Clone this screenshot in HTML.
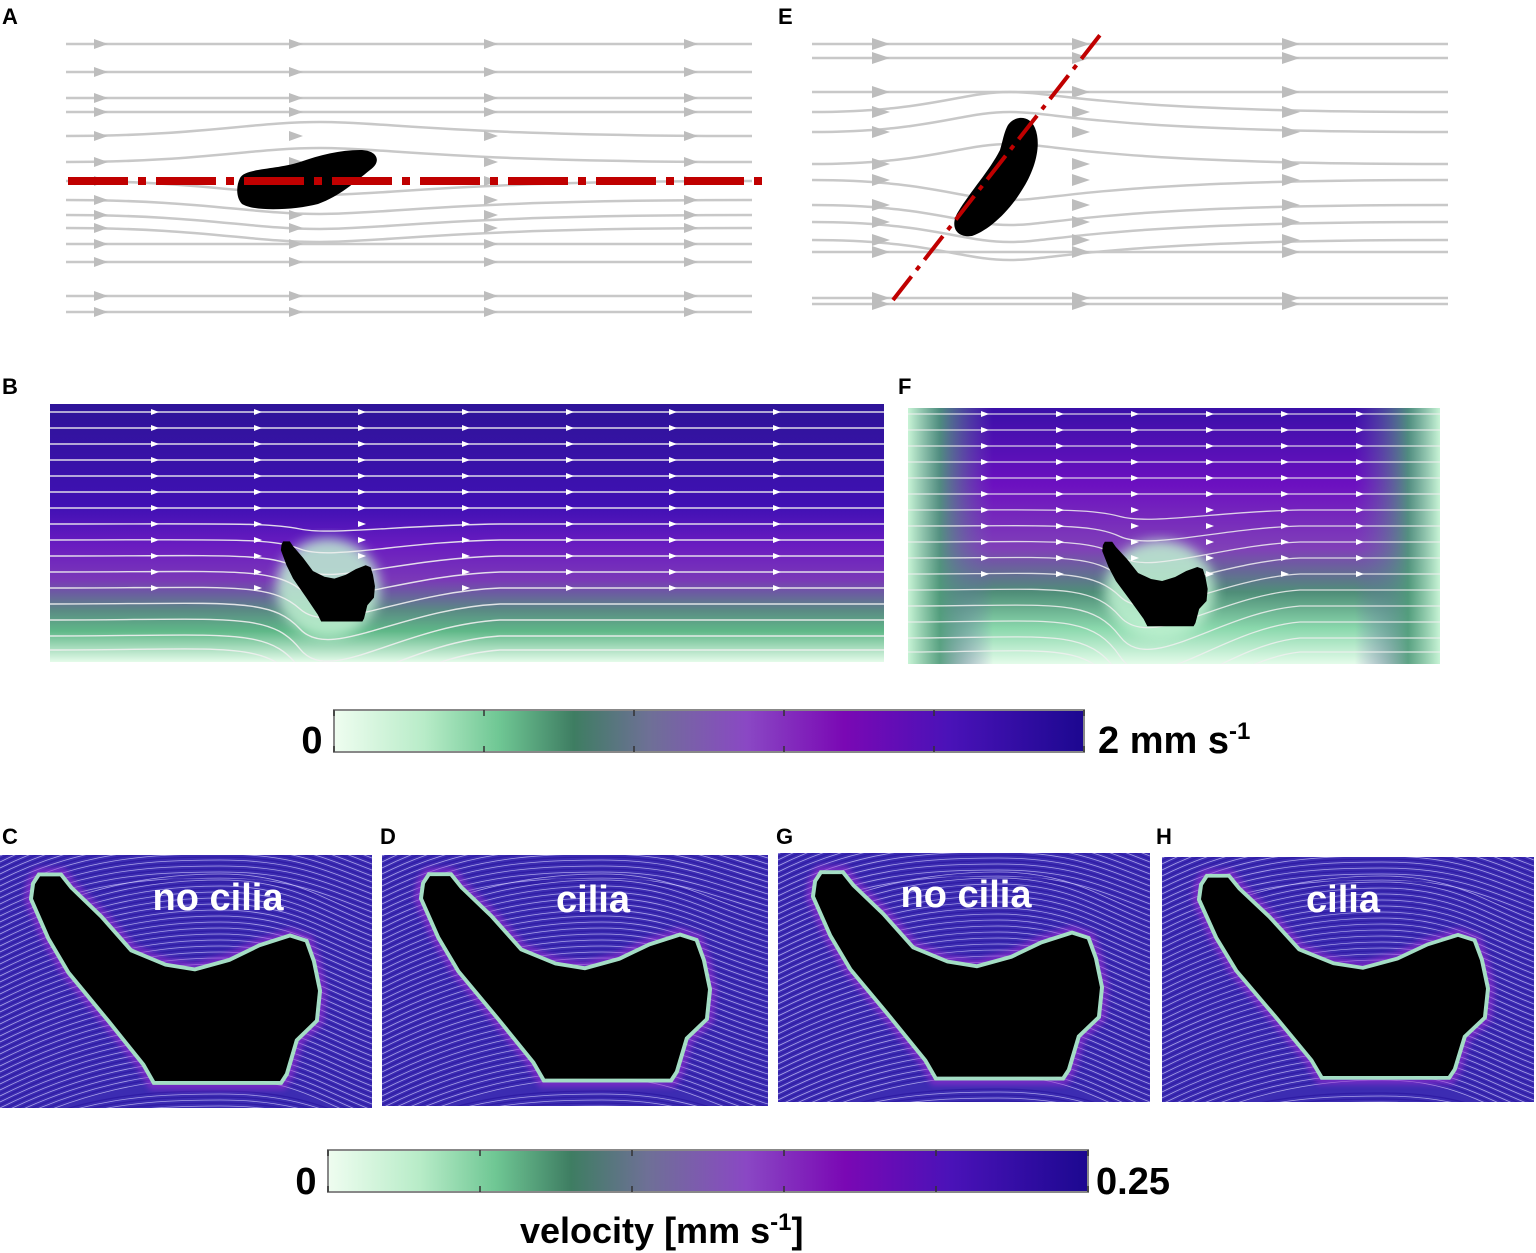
<!DOCTYPE html>
<html><head><meta charset="utf-8"><style>
html,body{margin:0;padding:0;background:#fff;}
svg{display:block;font-family:"Liberation Sans",sans-serif;}
</style></head><body>
<svg id="fig" width="1536" height="1253" viewBox="0 0 1536 1253">
<defs>
 <linearGradient id="cbar" x1="0" x2="1" y1="0" y2="0">
  <stop offset="0" stop-color="#effdf0"/><stop offset="0.12" stop-color="#b8ecc8"/>
  <stop offset="0.22" stop-color="#6fc794"/><stop offset="0.32" stop-color="#3e7d62"/>
  <stop offset="0.42" stop-color="#6e7096"/><stop offset="0.55" stop-color="#8a48c4"/>
  <stop offset="0.68" stop-color="#7a08b4"/><stop offset="0.82" stop-color="#4a12b8"/>
  <stop offset="1" stop-color="#1c0890"/>
 </linearGradient>
 <linearGradient id="gB" x1="0" x2="0" y1="0" y2="1">
  <stop offset="0" stop-color="#2e1498"/><stop offset="0.4" stop-color="#4010b4"/>
  <stop offset="0.55" stop-color="#6a1cc0"/><stop offset="0.68" stop-color="#7a38b8"/>
  <stop offset="0.8" stop-color="#5a8a84"/><stop offset="0.88" stop-color="#5fb888"/>
  <stop offset="1" stop-color="#e4fbea"/>
 </linearGradient>
 <linearGradient id="gF" x1="0" x2="0" y1="0" y2="1">
  <stop offset="0" stop-color="#3a10a8"/><stop offset="0.3" stop-color="#6c10c0"/>
  <stop offset="0.55" stop-color="#8040b8"/><stop offset="0.72" stop-color="#4f8e78"/>
  <stop offset="0.86" stop-color="#8ad8ac"/><stop offset="1" stop-color="#e4fbea"/>
 </linearGradient>
 <linearGradient id="gFside" x1="0" x2="1" y1="0" y2="0">
  <stop offset="0" stop-color="#c8f4d6" stop-opacity="1"/><stop offset="0.06" stop-color="#4f9a7a" stop-opacity="0.9"/>
  <stop offset="0.16" stop-color="#6e60b0" stop-opacity="0"/><stop offset="0.84" stop-color="#6e60b0" stop-opacity="0"/>
  <stop offset="0.94" stop-color="#4f9a7a" stop-opacity="0.9"/><stop offset="1" stop-color="#c8f4d6" stop-opacity="1"/>
 </linearGradient>
 <filter id="blur6"><feGaussianBlur stdDeviation="6"/></filter>
 <filter id="blur3"><feGaussianBlur stdDeviation="3"/></filter>
 <clipPath id="clipB"><rect x="50" y="404" width="834" height="258"/></clipPath>
 <clipPath id="clipF"><rect x="908" y="408" width="532" height="256"/></clipPath>
 <path id="boot" d="M40,22 L60,22 L70,35 L100,65 L130,100 L165,115 L195,120 L230,110 L260,95 L290,85 L305,90 L312,110 L318,140 L315,170 L295,190 L285,225 L280,233 L155,233 L145,215 L110,170 L70,120 L50,85 L33,45 L35,30 Z"/>
</defs>
<g id="root"></g>
</svg>
<script>
// ---- data ----
const streamA_y = [44, 72, 98, 112, 136, 162, 181, 200, 215, 228, 244, 262, 296, 312];
const streamE_y = [44, 58, 92, 112, 132, 164, 180, 205, 222, 240, 252, 298, 304];
const streamB_y = [412, 428, 444, 460, 476, 492, 508, 524, 540, 556, 572, 588, 604, 620, 636, 650];
const streamF_y = [414, 430, 446, 462, 478, 494, 510, 526, 542, 558, 574, 590, 606, 622, 638, 652];
const cbTicks = [0, 0.2, 0.4, 0.6, 0.8, 1];
const NS='http://www.w3.org/2000/svg';
const root=document.getElementById('root');
function el(tag,attrs,parent){const e=document.createElementNS(NS,tag);for(const k in attrs)e.setAttribute(k,attrs[k]);(parent||root).appendChild(e);return e;}
function txt(x,y,s,size,name,anchor){const t=el('text',{x:x,y:y,'font-size':size,'font-weight':'bold','text-anchor':anchor||'start',fill:'#000'});t.textContent=s;


return t;}

[['A',2,24],['E',778,24],['B',2,394],['F',898,394],['C',2,844],['D',380,844],['G',776,844],['H',1156,844]].forEach(l=>{txt(l[1],l[2],l[0],22,'panel-label-'+l[0].toLowerCase());});

// ---- Panel A ----
const gA=el('g',{});


streamA_y.forEach((y,i)=>{
 const near=Math.abs(y-181)<60; const d=near?(y<181?-14:14):0;
 const p=el('path',{d:`M66,${y} C200,${y} 250,${y+d} 320,${y+d} S450,${y} 752,${y}`,stroke:'#c8c8c8','stroke-width':2.5,fill:'none'},gA);
 
 [100,295,490,690].forEach(x=>{el('path',{d:`M${x-6},${y-5} L${x+8},${y} L${x-6},${y+5}Z`,fill:'#bdbdbd'},gA);});
});
const blobA=el('path',{d:'M240,178 C245,168 275,170 300,162 C320,155 340,150 360,150 C378,150 382,162 370,170 C355,182 340,196 318,204 C295,210 255,212 242,204 C236,198 236,186 240,178Z',fill:'#000'});


const redA=el('line',{x1:68,y1:181,x2:765,y2:181,stroke:'#c00000','stroke-width':8,'stroke-dasharray':'60 10 8 10'});



// ---- Panel E ----
const gE=el('g',{});


streamE_y.forEach((y)=>{
 const near=Math.abs(y-175)<70; const d=near?(y<175?-20:20):0;
 el('path',{d:`M812,${y} C930,${y} 960,${y+d} 1010,${y+d} S1100,${y} 1448,${y}`,stroke:'#c8c8c8','stroke-width':2.5,fill:'none'},gE);
 [880,1080,1290].forEach(x=>{el('path',{d:`M${x-8},${y-6} L${x+10},${y} L${x-8},${y+6}Z`,fill:'#bdbdbd'},gE);});
});
const blobE=el('path',{d:'M1008,125 C1015,115 1030,115 1035,128 C1042,145 1035,170 1022,190 C1010,210 990,230 972,236 C955,238 950,225 958,212 C970,192 990,170 1000,150 C1003,140 1004,132 1008,125Z',fill:'#000'});


const redE=el('line',{x1:893,y1:300,x2:1100,y2:35,stroke:'#c00000','stroke-width':4,'stroke-dasharray':'30 8 5 8'});



// ---- Panel B ----
const gB=el('g',{'clip-path':'url(#clipB)'});


el('rect',{x:50,y:404,width:834,height:258,fill:'url(#gB)'},gB);
el('ellipse',{cx:328,cy:588,rx:52,ry:50,fill:'#c0f2d2',filter:'url(#blur6)',opacity:0.85},gB);
streamB_y.forEach(y=>{
 const d = y>520 ? (y-520)*0.25+4 : 0;
 el('path',{d:`M50,${y} C230,${y} 270,${y-d*0.3} 300,${y+d} S400,${y+d*0.2} 500,${y} L884,${y}`,stroke:'#f0f0f0','stroke-width':1.4,fill:'none',opacity:0.9},gB);
 if(y<600)[155,258,362,466,570,673,777].forEach(x=>{el('path',{d:`M${x-4},${y-3} L${x+4},${y} L${x-4},${y+3}Z`,fill:'#fff'},gB);});
});
el('use',{href:'#boot',transform:'translate(270,533) scale(0.33,0.38)',fill:'#000'},gB);

// ---- Panel F ----
const gF=el('g',{'clip-path':'url(#clipF)'});


el('rect',{x:908,y:408,width:532,height:256,fill:'url(#gF)'},gF);
el('rect',{x:908,y:408,width:532,height:256,fill:'url(#gFside)'},gF);
el('ellipse',{cx:1160,cy:590,rx:55,ry:50,fill:'#c0f2d2',filter:'url(#blur6)',opacity:0.85},gF);
streamF_y.forEach(y=>{
 const d = y>500 ? (y-500)*0.25+4 : 0;
 el('path',{d:`M908,${y} C1050,${y} 1090,${y-d*0.3} 1120,${y+d} S1220,${y+d*0.2} 1300,${y} L1440,${y}`,stroke:'#f0f0f0','stroke-width':1.3,fill:'none',opacity:0.85},gF);
 if(y<580)[985,1060,1135,1210,1285,1360].forEach(x=>{el('path',{d:`M${x-4},${y-3} L${x+4},${y} L${x-4},${y+3}Z`,fill:'#fff'},gF);});
});
el('use',{href:'#boot',transform:'translate(1090,533) scale(0.37,0.4)',fill:'#000'},gF);

// ---- colorbars ----
function colorbar(x,y,w,h,name){
 const g=el('g',{});
 
 
 el('rect',{x:x,y:y,width:w,height:h,fill:'url(#cbar)',stroke:'#888','stroke-width':2},g);
 cbTicks.forEach(t=>{const tx=x+t*w;el('line',{x1:tx,y1:y,x2:tx,y2:y+6,stroke:'#333','stroke-width':1.5},g);el('line',{x1:tx,y1:y+h-6,x2:tx,y2:y+h,stroke:'#333','stroke-width':1.5},g);});
 return g;
}
colorbar(334,710,750,42,'colorbar-top');
txt(312,753,'0',38,'colorbar-top-min','middle');
const mx=txt(1098,753,'2 mm s',38,'colorbar-top-max');
const sup=el('tspan',{dy:-14,'font-size':24});sup.textContent='-1';mx.appendChild(sup);
colorbar(328,1150,760,42,'colorbar-bottom');
txt(306,1194,'0',38,'colorbar-bottom-min','middle');
txt(1096,1194,'0.25',38,'colorbar-bottom-max');
const vl=txt(520,1243,'velocity [mm s',36,'colorbar-bottom-title');
const s2=el('tspan',{dy:-13,'font-size':24});s2.textContent='-1';vl.appendChild(s2);
const s3=el('tspan',{dy:13});s3.textContent=']';vl.appendChild(s3);

// ---- zoomed panels C D G H ----
const zoomPanels=[
 {x:0,y:855,w:372,h:253,label:'no cilia',lx:218,ly:910,name:'panel-c',sx:1,sy:0.97,dx:0,dy:0},
 {x:382,y:855,w:386,h:251,label:'cilia',lx:593,ly:912,name:'panel-d',sx:1,sy:0.96,dx:8,dy:0},
 {x:778,y:853,w:372,h:249,label:'no cilia',lx:966,ly:907,name:'panel-g',sx:1,sy:0.96,dx:4,dy:0},
 {x:1162,y:857,w:372,h:245,label:'cilia',lx:1343,ly:912,name:'panel-h',sx:1,sy:0.94,dx:6,dy:0},
];
zoomPanels.forEach((p,pi)=>{
 const g=el('g',{});
 
 
 const cid='clip'+pi;
 const cp=el('clipPath',{id:cid},g);el('rect',{x:p.x,y:p.y,width:p.w,height:p.h},cp);
 const inner=el('g',{'clip-path':`url(#${cid})`},g);
 el('rect',{x:p.x,y:p.y,width:p.w,height:p.h,fill:'#3c2cb2'},inner);
 for(let k=-20;k<110;k++){
  const y0=p.y+k*3;
  const bend=(k>10&&k<80)?14:4;
  el('path',{d:`M${p.x},${y0+40} C${p.x+80},${y0} ${p.x+150},${y0-bend} ${p.x+220},${y0-bend} S${p.x+320},${y0+10} ${p.x+p.w},${y0+30}`,stroke:k%2?'#d8d4ff':'#2a16a0','stroke-width':k%2?0.8:1.2,fill:'none',opacity:0.7},inner);
 }
 const tf=`translate(${p.x+p.dx},${p.y+p.dy}) scale(${p.sx},${p.sy})`;
 el('use',{href:'#boot',transform:tf,fill:'none',stroke:'#9a2ed0','stroke-width':18,opacity:0.6,filter:'url(#blur3)'},inner);
 el('use',{href:'#boot',transform:tf,fill:'none',stroke:'#a8f0c4','stroke-width':8,opacity:0.9},inner);
 el('use',{href:'#boot',transform:tf,fill:'#000'},inner);
 const t=el('text',{x:p.lx,y:p.ly,'font-size':38,'font-weight':'bold','text-anchor':'middle',fill:'#fff'},g);
 
 
 t.textContent=p.label;
});
</script>
</body></html>
